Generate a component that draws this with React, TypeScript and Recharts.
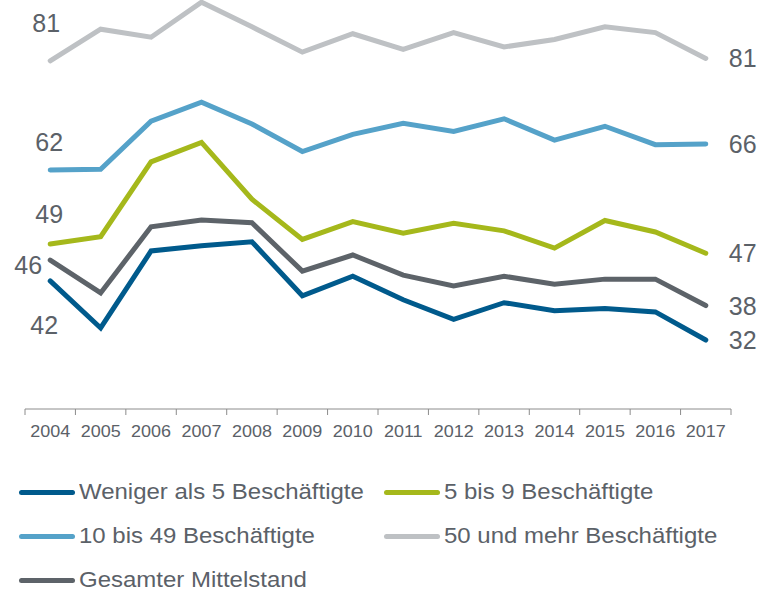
import { LineChart, Line, XAxis, YAxis, LabelList } from 'recharts'

const years = ['2004', '2005', '2006', '2007', '2008', '2009', '2010', '2011', '2012', '2013', '2014', '2015', '2016', '2017']

const weniger5 = [42.3, 34.1, 47.5, 48.4, 49.1, 39.7, 43.1, 39.0, 35.6, 38.5, 37.1, 37.5, 36.9, 32.0]
const bis9 = [48.7, 50.0, 63.0, 66.4, 56.5, 49.5, 52.6, 50.6, 52.3, 51.0, 48.0, 52.8, 50.8, 47.1]
const bis49 = [61.6, 61.7, 70.1, 73.4, 69.6, 64.8, 67.8, 69.7, 68.3, 70.5, 66.8, 69.2, 66.0, 66.1]
const ab50 = [80.6, 86.1, 84.7, 90.8, 86.5, 82.1, 85.3, 82.6, 85.5, 83.0, 84.3, 86.5, 85.5, 81.0]
const gesamt = [45.9, 40.2, 51.7, 52.9, 52.4, 44.0, 46.8, 43.3, 41.4, 43.1, 41.7, 42.6, 42.6, 38.0]

const TEXT = '#5b6168'
const FONT = '"Liberation Sans", Arial, sans-serif'

// dx/dy: where the first value label sits relative to its point
const series = [
  { key: 'w5', name: 'Weniger als 5 Beschäftigte', color: '#005a8c', values: weniger5, dx: -6, dy: 44 },
  { key: 'b9', name: '5 bis 9 Beschäftigte', color: '#a5b81b', values: bis9, dx: -1, dy: -30 },
  { key: 'b49', name: '10 bis 49 Beschäftigte', color: '#55a2c9', values: bis49, dx: -1, dy: -28 },
  { key: 'a50', name: '50 und mehr Beschäftigte', color: '#bec1c4', values: ab50, dx: -4, dy: -38 },
  { key: 'ges', name: 'Gesamter Mittelstand', color: '#5d6369', values: gesamt, dx: -22, dy: 5 },
]

const data = years.map((year, i) => {
  const row: Record<string, string | number> = { year }
  series.forEach((s) => { row[s.key] = s.values[i] })
  return row
})

const W = 760
const H = 450
const margin = { top: 1, right: 29, bottom: 11, left: 25 }
const HALF = (W - margin.left - margin.right) / years.length / 2

function YearTick({ x, y, payload, index }: any) {
  const last = index === years.length - 1
  return (
    <g>
      <line x1={x - HALF} x2={x - HALF} y1={y} y2={y + 6} stroke="#8c8c8c" />
      {last && <line x1={x + HALF} x2={x + HALF} y1={y} y2={y + 6} stroke="#8c8c8c" />}
      <text
        transform={`translate(${x},${y + 28}) scale(1.09,1)`}
        textAnchor="middle" fill={TEXT} fontSize={16.5} fontFamily={FONT}
      >
        {payload.value}
      </text>
    </g>
  )
}

function endLabels(dx: number, dy: number) {
  return (props: any) => {
    const { x, y, value, index } = props
    if (index === 0) {
      return (
        <text x={x + dx} y={y + dy} textAnchor="middle" dominantBaseline="central" fill={TEXT} fontSize={25} fontFamily={FONT}>
          {Math.round(value)}
        </text>
      )
    }
    if (index === years.length - 1) {
      return (
        <text x={x + 23} y={y} textAnchor="start" dominantBaseline="central" fill={TEXT} fontSize={25} fontFamily={FONT}>
          {Math.round(value)}
        </text>
      )
    }
    return null
  }
}

function LegendItem({ name, color }: { name: string; color: string }) {
  return (
    <div style={{ display: 'flex', alignItems: 'center', height: 44 }}>
      <div style={{ width: 56, height: 5, borderRadius: 3, background: color, marginRight: 4, flex: 'none' }} />
      <span style={{
        fontSize: 22, color: TEXT, fontFamily: FONT, whiteSpace: 'nowrap',
        display: 'inline-block', transform: 'scaleX(1.09)', transformOrigin: 'left center'
      }}>{name}</span>
    </div>
  )
}

export default function App() {
  return (
    <div style={{ position: 'absolute', left: 0, top: 0, width: W, height: 594, background: '#fff' }}>
      <LineChart width={W} height={H} data={data} margin={margin}>
        <XAxis
          dataKey="year"
          interval={0}
          padding={{ left: HALF, right: HALF }}
          tickLine={false}
          tickSize={0}
          tickMargin={0}
          height={30}
          axisLine={{ stroke: '#8c8c8c' }}
          tick={<YearTick />}
        />
        <YAxis hide domain={[20, 91]} />
        {series.map((s) => (
          <Line
            key={s.key}
            dataKey={s.key}
            name={s.name}
            stroke={s.color}
            strokeWidth={5}
            strokeLinecap="round"
            dot={false}
            activeDot={false}
            isAnimationActive={false}
          >
            <LabelList dataKey={s.key} content={endLabels(s.dx, s.dy)} />
          </Line>
        ))}
      </LineChart>
      <div style={{ position: 'absolute', left: 19, top: 470, display: 'grid', gridTemplateColumns: '365px 360px' }}>
        {series.map((s) => (
          <LegendItem key={s.key} name={s.name} color={s.color} />
        ))}
      </div>
    </div>
  )
}
